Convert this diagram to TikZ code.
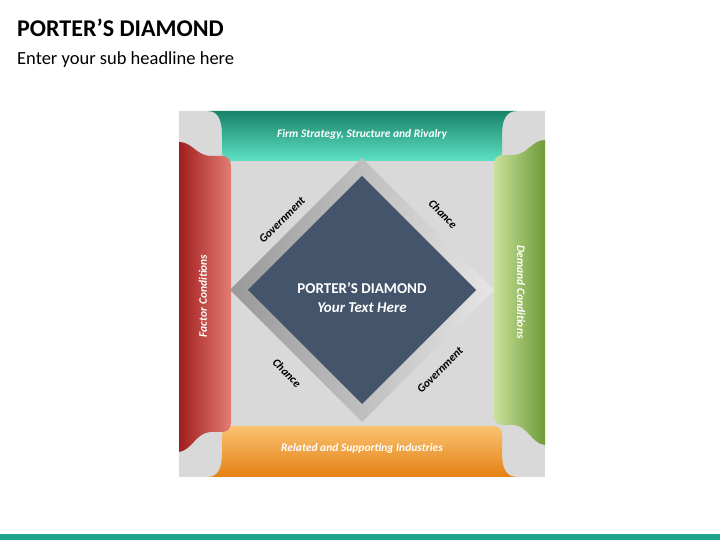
\documentclass[tikz,border=0pt]{standalone}
\usepackage{fontspec}
\setmainfont{Carlito}
\begin{document}
\begin{tikzpicture}[x=1pt,y=1pt,
  lbl/.style={font=\bfseries\itshape\fontsize{11.5}{13}\selectfont, text=white},
  edge/.style={font=\bfseries\itshape\fontsize{11.5}{13}\selectfont, text=black}]
\useasboundingbox (0,0) rectangle (720,540);
\fill[white] (0,0) rectangle (720,540);
\node[anchor=west,inner sep=0pt,font=\bfseries\fontsize{24}{28}\selectfont] (title) at (17,512) {PORTER’S DIAMOND};
\node[anchor=west,inner sep=0pt,font=\fontsize{18.5}{22}\selectfont] (sub) at (17,480) {Enter your sub headline here};
\fill[fill={rgb,255:red,31;green,163;blue,138}] (0,0) rectangle (720,6);
\fill[fill={rgb,255:red,217;green,217;blue,217}] (179,63) rectangle (545,429);
% top banner
\shade[top color={rgb,255:red,22;green,130;blue,105}, bottom color={rgb,255:red,95;green,225;blue,195}]
 (208,429) .. controls (218,429) and (222,420) .. (222,405) -- (222,388) .. controls (222,382) and (225,379) .. (231,379) -- (493,379) .. controls (499,379) and (502,382) .. (502,388) -- (502,405) .. controls (502,420) and (506,429) .. (517,429) -- cycle;
% bottom banner
\shade[top color={rgb,255:red,250;green,195;blue,115}, bottom color={rgb,255:red,228;green,128;blue,18}]
 (208,63) .. controls (218,63) and (222,72) .. (222,87) -- (222,105) .. controls (222,111) and (225,114) .. (231,114) -- (493,114) .. controls (499,114) and (502,111) .. (502,105) -- (502,87) .. controls (502,72) and (506,63) .. (517,63) -- cycle;
% left bar
\shade[left color={rgb,255:red,160;green,30;blue,30}, right color={rgb,255:red,228;green,125;blue,115}]
 (179,398) .. controls (192,398) and (196,385) .. (210,384) -- (222,384) .. controls (228,384) and (231,380) .. (231,374) -- (231,118) .. controls (231,112) and (228,108) .. (222,108) -- (210,108) .. controls (196,107) and (192,90) .. (179,88) -- cycle;
% right bar
\shade[left color={rgb,255:red,200;green,225;blue,155}, right color={rgb,255:red,110;green,155;blue,55}]
 (545,400) .. controls (532,400) and (528,386) .. (514,385) -- (503,385) .. controls (497,385) and (494,381) .. (494,375) -- (494,125) .. controls (494,119) and (497,115) .. (503,115) -- (514,115) .. controls (528,114) and (532,96) .. (545,95) -- cycle;
\node[lbl] (firm) at (362,406) {Firm Strategy, Structure and Rivalry};
\node[lbl] (rel) at (362,92) {Related and Supporting Industries};
\node[lbl,rotate=90] (fac) at (203,244) {Factor Conditions};
\node[lbl,rotate=-90] (dem) at (521,248) {Demand Conditions};
% diamond frame
\shade[shading=axis, shading angle=135, left color=gray!80, right color=gray!20, middle color=gray!50]
 (362,382) -- (494,250) -- (362,118) -- (230,250) -- cycle;
\fill[fill={rgb,255:red,68;green,84;blue,106}] (362,364) -- (476,250) -- (362,136) -- (248,250) -- cycle;
\node[font=\bfseries\fontsize{15}{18}\selectfont,text=white] (pd) at (362,252) {PORTER’S DIAMOND};
\node[font=\bfseries\itshape\fontsize{15}{18}\selectfont,text=white] (yt) at (362,232) {Your Text Here};
\node[edge,rotate=45] (g1) at (282,320) {Government};
\node[edge,rotate=-45] (c1) at (443,326) {Chance};
\node[edge,rotate=-45] (c2) at (287,167) {Chance};
\node[edge,rotate=45] (g2) at (440,170) {Government};
\end{tikzpicture}
\end{document}
